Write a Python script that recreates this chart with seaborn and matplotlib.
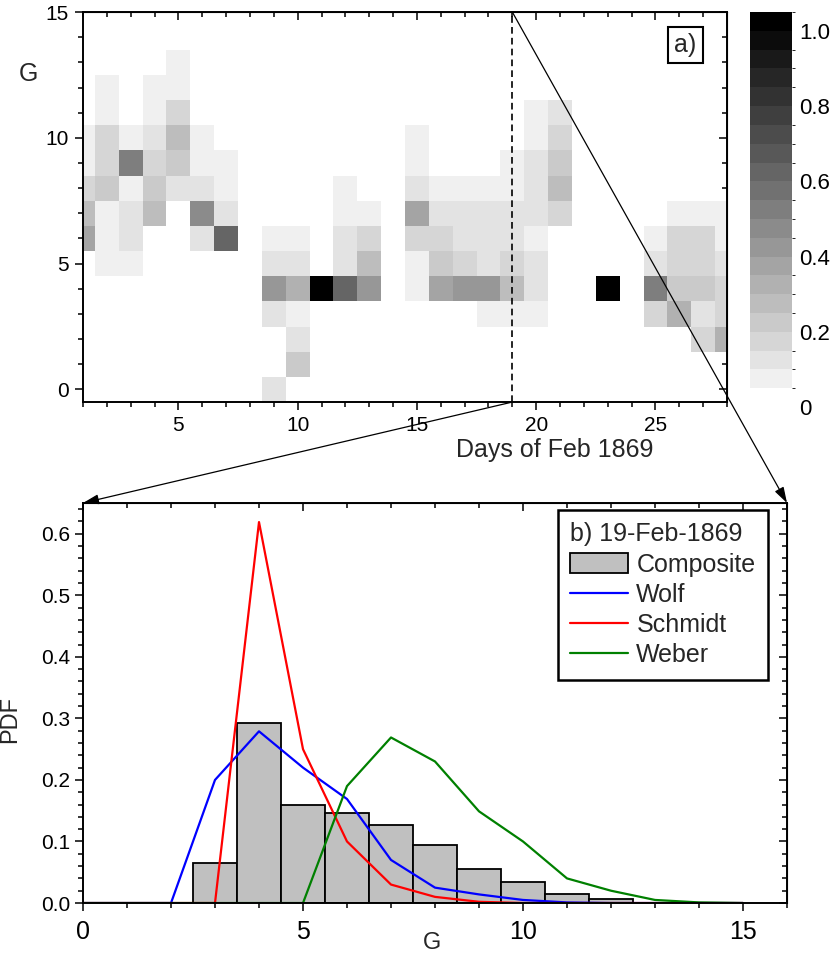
import numpy as np
import pandas as pd
import matplotlib
matplotlib.use("Agg")
import matplotlib.pyplot as plt
import seaborn as sns
from matplotlib.colors import ListedColormap, BoundaryNorm
from matplotlib.patches import ConnectionPatch, Patch
from matplotlib.lines import Line2D
from matplotlib.ticker import FormatStrFormatter

# ---- panel b) data : PDF of G for 19 Feb 1869
g_vals = list(range(0, 16))
composite = [0, 0, 0, .065, .292, .160, .147, .126, .095, .056, .034, .015, .007, 0, 0, 0]
wolf = [0, 0, 0, .200, .279, .220, .169, .070, .025, .014, .005, .001, 0, 0, 0, 0]
schmidt = [0, 0, 0, 0, .619, .250, .100, .030, .010, .002, 0, 0, 0, 0, 0, 0]
weber = [0, 0, 0, 0, 0, 0, .190, .269, .230, .149, .100, .040, .020, .005, .001, 0]

# ---- panel a) data : composite PDF per day, listed from the lowest G with a value
days = list(range(1, 29))
g_levels = list(range(0, 15))
day_g_low = [6, 5, 5, 7, 8, 6, 6, 0, 0, 1, 4, 4, 4, 0, 4, 4, 4, 3, 3, 3, 7, 0, 4, 0, 3, 3, 2, 2]
day_pdf = [
    [.375, .275, .175, .075, .075],                    # 1
    [.075, .075, .075, .225, .175, .175, .075, .075],  # 2
    [.075, .125, .125, .075, .525, .075],              # 3
    [.275, .225, .175, .125, .075, .075],              # 4
    [.125, .225, .275, .175, .075, .075],              # 5
    [.125, .475, .125, .075, .075],                    # 6
    [.625, .125, .075, .075],                          # 7
    [],                                                # 8
    [.125, 0, 0, .125, .425, .125, .075],              # 9
    [.225, .125, .075, .325, .125, .075],              # 10
    [1.0],                                             # 11
    [.625, .125, .125, .075, .075],                    # 12
    [.425, .275, .175, .075],                          # 13
    [],                                                # 14
    [.075, .075, .175, .375, .125, .075, .075],        # 15
    [.375, .225, .175, .125, .075],                    # 16
    [.425, .175, .125, .125, .075],                    # 17
    [.075, .425, .125, .125, .125, .075],              # 18
    composite[3:13],                                   # 19
    [.075, .125, .125, .075, .125, .125, .125, .075, .075],  # 20
    [.175, .275, .225, .175, .125],                    # 21
    [],                                                # 22
    [1.0],                                             # 23
    [],                                                # 24
    [.175, .525, .125, .075],                          # 25
    [.325, .225, .175, .175, .075],                    # 26
    [.175, .125, .225, .175, .175, .075],              # 27
    [.325, .175, .175, .125, .075, .075],              # 28
]
sel_day = 19

grid = pd.DataFrame(0.0, index=g_levels, columns=days)
for d, g0, vals in zip(days, day_g_low, day_pdf):
    for i, v in enumerate(vals):
        grid.loc[g0 + i, d] = v

sns.set_style("ticks", rc={"axes.edgecolor": "black", "xtick.color": "black",
                           "ytick.color": "black", "axes.linewidth": 1.4})
plt.rcParams["font.family"] = ["Liberation Sans", "DejaVu Sans"]
plt.rcParams["font.size"] = 15

fig = plt.figure(figsize=(8.3, 9.57), dpi=100)
ax1 = fig.add_axes([0.1, 0.5799, 0.7759, 0.4075])
cax = fig.add_axes([0.9036, 0.5747, 0.0506, 0.4127])
ax2 = fig.add_axes([0.1, 0.0564, 0.8482, 0.418])

# grey levels, 0.05 wide, white below 0.05
greys = ["white"] + [str(round(v, 3)) for v in np.linspace(0.94, 0.0, 20)]
cmap = ListedColormap(greys)
norm = BoundaryNorm(np.linspace(0, 1.05, 22), cmap.N)

sns.heatmap(grid, ax=ax1, cmap=cmap, norm=norm, mask=grid <= 0, cbar_ax=cax,
            xticklabels=False, yticklabels=False)
for s in ax1.spines.values():
    s.set_visible(True)
    s.set_linewidth(1.4)
    s.set_color("black")

# heatmap cell j covers [j, j+1] -> day d centred at d - 0.5
ax1.set_xlim(0.5, 27.5)
ax1.set_ylim(0, 15.5)
xmaj = [d - 0.5 for d in [5, 10, 15, 20, 25]]
xmin = [d - 0.5 for d in days]
ymaj = [g + 0.5 for g in [0, 5, 10, 15]]
ymin = [g + 0.5 for g in range(0, 16)]
ax1.set_xticks(xmaj, labels=["5", "10", "15", "20", "25"])
ax1.set_xticks(xmin, minor=True)
ax1.set_yticks(ymaj, labels=["0", "5", "10", "15"], rotation=0)
ax1.set_yticks(ymin, minor=True)
ax1.tick_params(which="major", direction="out", length=6, width=1.1, labelsize=15, pad=4)
ax1.tick_params(which="minor", direction="out", length=3.5, width=1.1)

top1 = ax1.secondary_xaxis("top")
top1.set_xticks(xmaj)
top1.set_xticks(xmin, minor=True)
top1.tick_params(which="both", direction="in", labeltop=False, width=1.1)
top1.tick_params(which="major", length=6)
top1.tick_params(which="minor", length=3.5)
right1 = ax1.secondary_yaxis("right")
right1.set_yticks(ymaj)
right1.set_yticks(ymin, minor=True)
right1.tick_params(which="both", direction="in", labelright=False, width=1.1)
right1.tick_params(which="major", length=6)
right1.tick_params(which="minor", length=3.5)

ax1.axvline(sel_day - 0.5, color="black", ls=(0, (4, 2.5)), lw=1.2)
ax1.set_xlabel("Days of Feb 1869", fontsize=18)
ax1.xaxis.set_label_coords(0.733, -0.092)
ax1.set_ylabel("G", fontsize=18, rotation=0, ha="center", va="center")
ax1.yaxis.set_label_coords(-0.085, 0.842)
ax1.text(0.935, 0.915, "a)", transform=ax1.transAxes, fontsize=18, ha="center", va="center",
         bbox=dict(boxstyle="square,pad=0.25", fc="white", ec="black", lw=1.5))

cax.set_yticks([0, .2, .4, .6, .8, 1.0], labels=["0", "0.2", "0.4", "0.6", "0.8", "1.0"])
cax.tick_params(length=0, labelsize=16, pad=5)
for s in cax.spines.values():
    s.set_visible(False)

# ---- panel b)
mask = np.array(composite) > 0
sns.histplot(x=np.array(g_vals)[mask], weights=np.array(composite)[mask], discrete=True,
             color="#c0c0c0", edgecolor="black", linewidth=1.3, alpha=1, ax=ax2)
sns.lineplot(x=g_vals, y=wolf, color="#0000ff", lw=1.6, ax=ax2)
sns.lineplot(x=g_vals, y=schmidt, color="#ff0000", lw=1.6, ax=ax2)
sns.lineplot(x=g_vals, y=weber, color="#008000", lw=1.6, ax=ax2)

ax2.set_xlim(0, 16)
ax2.set_ylim(0, 0.65)
ax2.set_xticks([0, 5, 10, 15])
ax2.set_xticks(range(0, 17), minor=True)
ax2.set_yticks(np.arange(0, 0.61, 0.1))
ax2.set_yticks(np.arange(0, 0.65, 0.02), minor=True)
ax2.yaxis.set_major_formatter(FormatStrFormatter("%.1f"))
ax2.tick_params(axis="x", which="major", direction="out", length=6, width=1.1, labelsize=18, pad=6)
ax2.tick_params(axis="y", which="major", direction="out", length=6, width=1.1, labelsize=15, pad=3)
ax2.tick_params(which="minor", direction="out", length=3.5, width=1.1)
for s in ax2.spines.values():
    s.set_visible(True)
    s.set_linewidth(1.4)

top2 = ax2.secondary_xaxis("top")
top2.set_xticks([0, 5, 10, 15])
top2.set_xticks(range(0, 17), minor=True)
top2.tick_params(which="both", direction="in", labeltop=False, width=1.1)
top2.tick_params(which="major", length=6)
top2.tick_params(which="minor", length=3.5)
right2 = ax2.secondary_yaxis("right")
right2.set_yticks(np.arange(0, 0.61, 0.1))
right2.set_yticks(np.arange(0, 0.65, 0.02), minor=True)
right2.tick_params(which="both", direction="in", labelright=False, width=1.1)
right2.tick_params(which="major", length=6)
right2.tick_params(which="minor", length=3.5)

ax2.set_xlabel("G", fontsize=17, va="center")
ax2.xaxis.set_label_coords(0.496, -0.1)
ax2.set_ylabel("PDF", fontsize=17, va="center")
ax2.yaxis.set_label_coords(-0.104, 0.458)

handles = [Patch(fc="#c0c0c0", ec="black", lw=1.3),
           Line2D([], [], color="#0000ff", lw=1.6),
           Line2D([], [], color="#ff0000", lw=1.6),
           Line2D([], [], color="#008000", lw=1.6)]
leg = ax2.legend(handles, ["Composite", "Wolf", "Schmidt", "Weber"], title="b) 19-Feb-1869",
                 loc="upper right", bbox_to_anchor=(0.973, 0.9825), borderaxespad=0,
                 fontsize=18, title_fontsize=18, alignment="left", fancybox=False,
                 edgecolor="black", framealpha=1, handlelength=2.3, handleheight=0.85,
                 handletextpad=0.35, labelspacing=0.25, borderpad=0.5)
leg.get_frame().set_linewidth(1.8)

# zoom lines from the selected day down to panel b)
for xa, ya, xb in [(sel_day - 0.5, 0, 0), (sel_day - 0.5, 15.5, 1)]:
    con = ConnectionPatch(xyA=(xa, ya), coordsA=ax1.transData, xyB=(xb, 1), coordsB=ax2.transAxes,
                          arrowstyle="-|>,head_length=0.8,head_width=0.25", mutation_scale=12,
                          color="black", lw=0.9, shrinkA=0, shrinkB=0)
    fig.add_artist(con)

fig.savefig("out.png", dpi=100)
